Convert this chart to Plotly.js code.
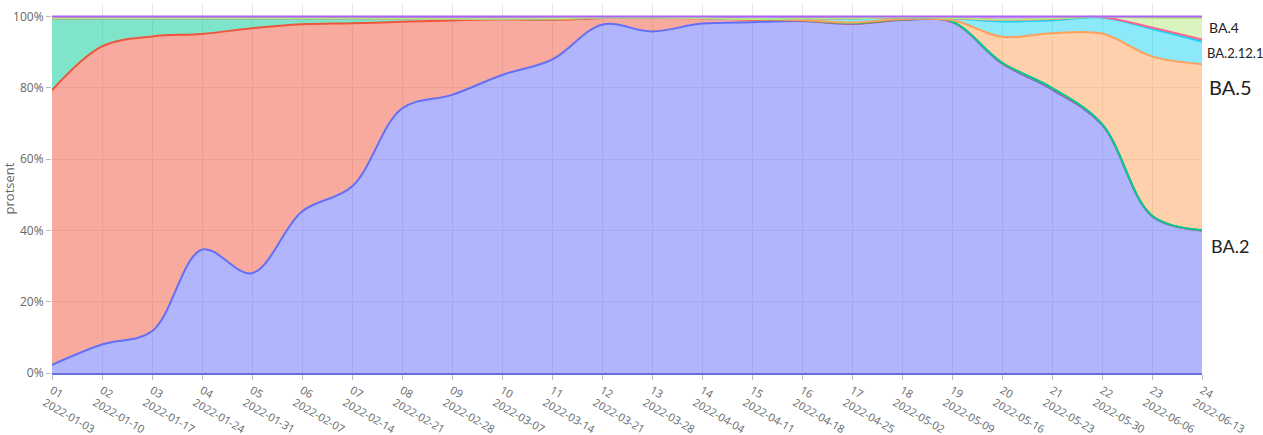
<!DOCTYPE html>
<html>
<head>
<meta charset="utf-8">
<script src="https://cdn.plot.ly/plotly-3.0.1.min.js"></script>
<style>html,body{margin:0;padding:0;background:#fff;}#chart{width:1263px;height:435px;}</style>
</head>
<body>
<div id="chart"></div>
<script>
// Week numbers and week start dates
const weeks = ['01','02','03','04','05','06','07','08','09','10','11','12','13','14','15','16','17','18','19','20','21','22','23','24'];
const dates = ['2022-01-03','2022-01-10','2022-01-17','2022-01-24','2022-01-31','2022-02-07','2022-02-14','2022-02-21','2022-02-28','2022-03-07','2022-03-14','2022-03-21','2022-03-28','2022-04-04','2022-04-11','2022-04-18','2022-04-25','2022-05-02','2022-05-09','2022-05-16','2022-05-23','2022-05-30','2022-06-06','2022-06-13'];

// Shares (%) per variant, stacked bottom to top
const BA2    = [2.3, 8.0, 11.7, 34.6, 28.0, 45.3, 52.3, 74.2, 78.0, 83.6, 87.9, 97.7, 95.8, 98.0, 98.4, 98.7, 97.9, 98.9, 98.4, 86.8, 79.5, 69.6, 44.0, 40.0];
const BA1    = [77.0, 83.6, 82.7, 60.5, 68.7, 52.5, 45.8, 24.3, 20.9, 15.6, 11.1, 1.9, 3.8, 1.5, 0.7, 0.2, 0.1, 0.1, 0.1, 0.2, 0.3, 0.2, 0.1, 0.0];
const BA11   = [20.1, 7.9, 5.1, 4.4, 2.8, 1.7, 1.4, 0.9, 0.5, 0.2, 0.2, 0.1, 0.1, 0.1, 0.2, 0.1, 0.1, 0.1, 0.1, 0.1, 0.2, 0.1, 0.1, 0.1];
const BA5    = [0, 0, 0, 0, 0, 0, 0, 0, 0, 0, 0, 0, 0, 0, 0, 0, 0.2, 0.1, 0.4, 7.2, 15.3, 25.3, 44.6, 46.5];
const BA2121 = [0.1, 0, 0, 0, 0, 0, 0, 0, 0, 0, 0.3, 0, 0, 0, 0, 0.4, 1.1, 0.4, 0.5, 4.3, 3.6, 4.5, 7.7, 6.4];
const XE     = [0, 0, 0, 0, 0, 0, 0, 0, 0, 0, 0, 0, 0, 0, 0, 0, 0.1, 0.1, 0.1, 0.4, 0.4, 0.1, 0.4, 0.5];
const BA4    = [0, 0, 0, 0, 0, 0, 0, 0, 0, 0, 0, 0, 0, 0, 0, 0, 0, 0, 0, 0.1, 0.1, 0.1, 2.7, 6.1];
const OTHER  = [0.5, 0.5, 0.5, 0.5, 0.5, 0.5, 0.5, 0.6, 0.6, 0.6, 0.5, 0.3, 0.3, 0.4, 0.7, 0.6, 0.5, 0.2, 0.4, 0.9, 0.6, 0.1, 0.4, 0.4];

const seriesNames  = ['BA.2', 'BA.1', 'BA.1.1', 'BA.5', 'BA.2.12.1', 'XE', 'BA.4', 'muud'];
const seriesValues = [BA2, BA1, BA11, BA5, BA2121, XE, BA4, OTHER];
const seriesColors = ['#636efa', '#EF553B', '#00cc96', '#FFA15A', '#19d3f3', '#FF6692', '#B6E880', '#ab63fa'];

const yTickVals = [0, 20, 40, 60, 80, 100];
const yTickText = ['0%', '20%', '40%', '60%', '80%', '100%'];

const xLabels = weeks.map((w, i) => w + '<br>' + dates[i]);

const traces = seriesValues.map((vals, k) => ({
  type: 'scatter',
  mode: 'lines',
  name: seriesNames[k],
  x: xLabels,
  y: vals,
  stackgroup: 'one',
  groupnorm: 'percent',
  line: {shape: 'spline', smoothing: 1, width: 2, color: seriesColors[k]},
  hoverinfo: 'x+y+name'
}));

const annFont = 'Lato, "Noto Sans", sans-serif';
const layout = {
  width: 1263,
  height: 435,
  margin: {l: 52, r: 61, t: 4, b: 62},
  paper_bgcolor: '#ffffff',
  plot_bgcolor: '#ffffff',
  showlegend: false,
  font: {family: '"Open Sans", verdana, arial, sans-serif', size: 11, color: '#666'},
  xaxis: {
    type: 'category',
    range: [0, 23],
    tickangle: 30,
    showgrid: true,
    gridcolor: '#e6e6e6',
    ticks: 'outside',
    ticklen: 5,
    tickcolor: '#bbb',
    showline: true,
    linecolor: '#6b70d8',
    linewidth: 2,
    zeroline: false,
    tickfont: {size: 11, color: '#666'}
  },
  yaxis: {
    range: [0, 103.5],
    tickmode: 'array',
    tickvals: yTickVals,
    ticktext: yTickText,
    showgrid: true,
    gridcolor: '#e6e6e6',
    ticks: 'outside',
    ticklen: 5,
    tickcolor: '#bbb',
    zeroline: false,
    title: {text: 'protsent', font: {size: 13, color: '#666'}, standoff: 2},
    tickfont: {size: 12, color: '#666'}
  },
  annotations: [
    {xref: 'paper', yref: 'y', x: 1.004, y: 96.8, xanchor: 'left', yanchor: 'middle', text: 'BA.4', showarrow: false, font: {family: annFont, size: 14, color: '#222'}},
    {xref: 'paper', yref: 'y', x: 1.003, y: 89.8, xanchor: 'left', yanchor: 'middle', text: 'BA.2.12.1', showarrow: false, font: {family: annFont, size: 13, color: '#222'}},
    {xref: 'paper', yref: 'y', x: 1.004, y: 80.1, xanchor: 'left', yanchor: 'middle', text: 'BA.5', showarrow: false, font: {family: annFont, size: 20, color: '#222'}},
    {xref: 'paper', yref: 'y', x: 1.006, y: 35.6, xanchor: 'left', yanchor: 'middle', text: 'BA.2', showarrow: false, font: {family: annFont, size: 18, color: '#222'}}
  ]
};

Plotly.newPlot('chart', traces, layout, {displayModeBar: false, responsive: false});
</script>
</body>
</html>
